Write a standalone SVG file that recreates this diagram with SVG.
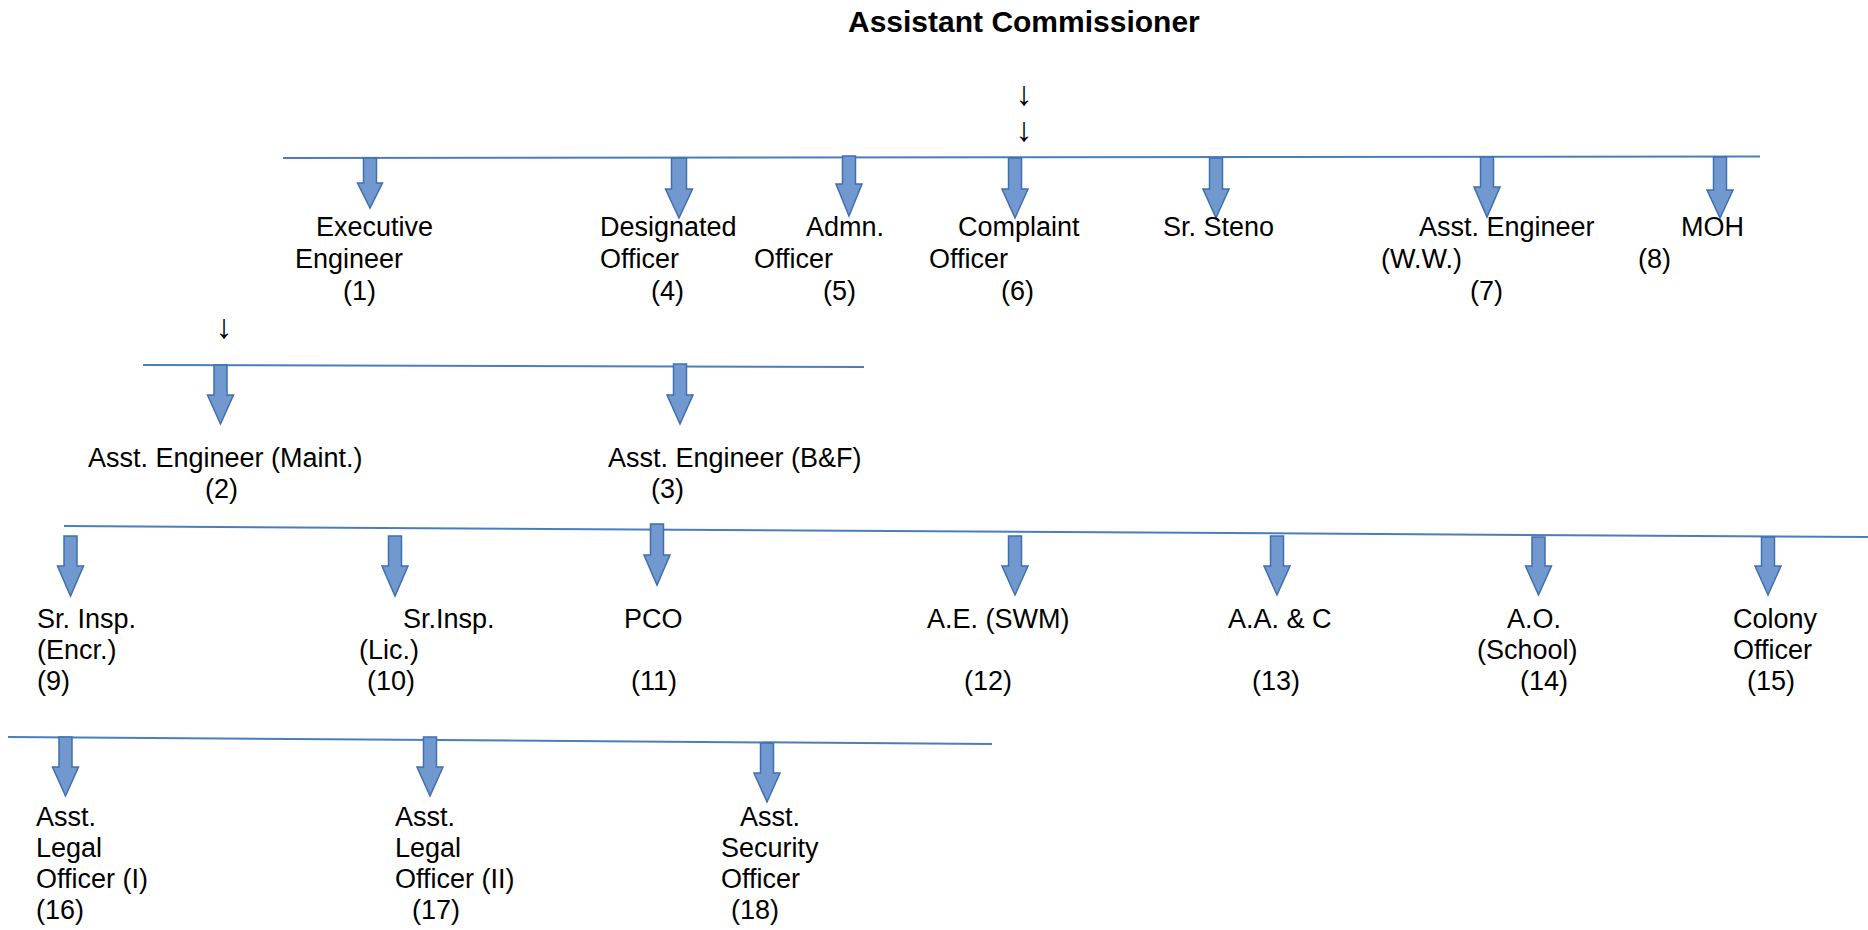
<svg xmlns="http://www.w3.org/2000/svg" width="1868" height="930" viewBox="0 0 1868 930">
<style>
text{font-family:"Liberation Sans",Arial,sans-serif;font-size:27px;fill:#000}
.title{font-size:30px;font-weight:bold}
.down{font-size:34px}
.bar{stroke:#4a7ebb;stroke-width:2;fill:none}
.blk{fill:#7199cf;stroke:#3f6fb0;stroke-width:1.5;stroke-linejoin:miter}
</style>
<rect width="1868" height="930" fill="#fff"/>
<g id="assistant-commissioner">
<text class="title" x="848" y="32">Assistant Commissioner</text>
</g>
<g id="connectors">
<text class="down" x="1024" y="105" text-anchor="middle">↓</text>
<text class="down" x="1024" y="141" text-anchor="middle">↓</text>
<text class="down" x="224" y="338" text-anchor="middle">↓</text>
<line class="bar" x1="283" y1="158" x2="1760" y2="156.5"/>
<line class="bar" x1="143" y1="365" x2="864" y2="367"/>
<line class="bar" x1="64" y1="526" x2="1868" y2="537"/>
<line class="bar" x1="8" y1="737" x2="992" y2="744"/>
<path class="blk" d="M363.5,158 H376.5 V183 H382.5 L370,208 L357.5,183 H363.5 Z"/>
<path class="blk" d="M671.5,158 H686.5 V189 H692.5 L679,218 L665.5,189 H671.5 Z"/>
<path class="blk" d="M842.5,156 H855.5 V184 H862 L849,216 L836,184 H842.5 Z"/>
<path class="blk" d="M1008.5,158 H1021.5 V189 H1028 L1015,218 L1002,189 H1008.5 Z"/>
<path class="blk" d="M1209.5,158 H1222.5 V189 H1229 L1216,218 L1203,189 H1209.5 Z"/>
<path class="blk" d="M1480.5,157 H1493.5 V187 H1500 L1487,217 L1474,187 H1480.5 Z"/>
<path class="blk" d="M1713.5,157 H1726.5 V190 H1733 L1720,218 L1707,190 H1713.5 Z"/>
<path class="blk" d="M214,365 H227 V395 H233.5 L220.5,424 L207.5,395 H214 Z"/>
<path class="blk" d="M673.5,364 H686.5 V395 H693 L680,424 L667,395 H673.5 Z"/>
<path class="blk" d="M64,536 H77 V566 H83.5 L70.5,596 L57.5,566 H64 Z"/>
<path class="blk" d="M388.5,536 H401.5 V566 H408 L395,596 L382,566 H388.5 Z"/>
<path class="blk" d="M650.5,524 H663.5 V555 H670 L657,585 L644,555 H650.5 Z"/>
<path class="blk" d="M1008.5,536 H1021.5 V566 H1028 L1015,595 L1002,566 H1008.5 Z"/>
<path class="blk" d="M1270.5,536 H1283.5 V566 H1290 L1277,595 L1264,566 H1270.5 Z"/>
<path class="blk" d="M1532,537 H1545 V566 H1551.5 L1538.5,595 L1525.5,566 H1532 Z"/>
<path class="blk" d="M1761.5,537 H1774.5 V566 H1781 L1768,595 L1755,566 H1761.5 Z"/>
<path class="blk" d="M59,737 H72 V767 H78.5 L65.5,796 L52.5,767 H59 Z"/>
<path class="blk" d="M423.5,737 H436.5 V767 H443 L430,796 L417,767 H423.5 Z"/>
<path class="blk" d="M760.5,743 H773.5 V773 H780 L767,802 L754,773 H760.5 Z"/>
</g>
<g id="n1"><text x="316" y="236">Executive</text><text x="295" y="268">Engineer</text><text x="343" y="300">(1)</text></g>
<g id="n4"><text x="600" y="236">Designated</text><text x="600" y="268">Officer</text><text x="651" y="300">(4)</text></g>
<g id="n5"><text x="806" y="236">Admn.</text><text x="754" y="268">Officer</text><text x="823" y="300">(5)</text></g>
<g id="n6"><text x="958" y="236">Complaint</text><text x="929" y="268">Officer</text><text x="1001" y="300">(6)</text></g>
<g id="sr-steno"><text x="1163" y="236">Sr. Steno</text></g>
<g id="n7"><text x="1419" y="236">Asst. Engineer</text><text x="1381" y="268">(W.W.)</text><text x="1470" y="300">(7)</text></g>
<g id="n8"><text x="1681" y="236">MOH</text><text x="1638" y="268">(8)</text></g>
<g id="n2"><text x="88" y="467">Asst. Engineer (Maint.)</text><text x="205" y="498">(2)</text></g>
<g id="n3"><text x="608" y="467">Asst. Engineer (B&amp;F)</text><text x="651" y="498">(3)</text></g>
<g id="n9"><text x="37" y="628">Sr. Insp.</text><text x="37" y="659">(Encr.)</text><text x="37" y="690">(9)</text></g>
<g id="n10"><text x="403" y="628">Sr.Insp.</text><text x="359" y="659">(Lic.)</text><text x="367" y="690">(10)</text></g>
<g id="n11"><text x="624" y="628">PCO</text><text x="631" y="690">(11)</text></g>
<g id="n12"><text x="927" y="628">A.E. (SWM)</text><text x="964" y="690">(12)</text></g>
<g id="n13"><text x="1228" y="628">A.A. &amp; C</text><text x="1252" y="690">(13)</text></g>
<g id="n14"><text x="1507" y="628">A.O.</text><text x="1477" y="659">(School)</text><text x="1520" y="690">(14)</text></g>
<g id="n15"><text x="1733" y="628">Colony</text><text x="1733" y="659">Officer</text><text x="1747" y="690">(15)</text></g>
<g id="n16"><text x="36" y="826">Asst.</text><text x="36" y="857">Legal</text><text x="36" y="888">Officer (I)</text><text x="36" y="919">(16)</text></g>
<g id="n17"><text x="395" y="826">Asst.</text><text x="395" y="857">Legal</text><text x="395" y="888">Officer (II)</text><text x="412" y="919">(17)</text></g>
<g id="n18"><text x="740" y="826">Asst.</text><text x="721" y="857">Security</text><text x="721" y="888">Officer</text><text x="731" y="919">(18)</text></g>
</svg>
